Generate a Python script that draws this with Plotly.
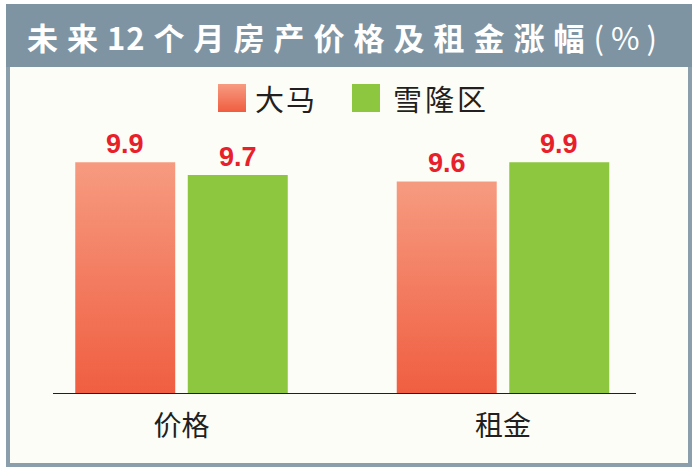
import re
import plotly.graph_objects as go

# ---------------- data ----------------
categories = ["价格", "租金"]
series_names = ["大马", "雪隆区"]
malaysia = [9.9, 9.6]
klang_valley = [9.7, 9.9]
title_main = "未来12个月房产价格及租金涨幅"
title_unit = "(%)"

# ---------------- layout geometry ----------------
W, H = 696, 468
ML, MR, MT, MB = 53, 60, 130, 75
PW, PH = W - ML - MR, H - MT - MB
Y_MIN = 6.31
Y_MAX = Y_MIN + PH / 64.3
X_MIN, X_MAX = -0.3997, 1.4137
BAR_W = 0.311
OFF = 0.175

RED_TOP, RED_BOT = "#f69b80", "#f05e41"
GREEN = "#8dc63f"
LABEL_RED = "#e8202a"
INK = "#231f20"
FRAME = "#8a9eab"
BAR_BG = "#7e94a2"
CJK = "Noto Sans CJK SC"


def px_x(px):
    return (px - ML) / PW


def px_y(py):
    return (H - MB - py) / PH


def mix(c1, c2, t):
    a = [int(c1[i:i + 2], 16) for i in (1, 3, 5)]
    b = [int(c2[i:i + 2], 16) for i in (1, 3, 5)]
    return "#%02x%02x%02x" % tuple(round(a[k] + (b[k] - a[k]) * t) for k in range(3))


fig = go.Figure()

# salmon (gradient) bars
for i, v in enumerate(malaysia):
    cx = i - OFF
    fig.add_trace(go.Scatter(
        x=[cx - BAR_W / 2, cx + BAR_W / 2], y=[v, v],
        mode="lines", line=dict(width=0, color=RED_TOP),
        fill="tozeroy",
        fillgradient=dict(type="vertical",
                          colorscale=[[0, RED_BOT], [1, RED_TOP]],
                          start=Y_MIN, stop=v),
        name=series_names[0], showlegend=False,
        hovertemplate=f"{series_names[0]} {categories[i]}: {v}<extra></extra>",
    ))

# green bars
fig.add_trace(go.Bar(
    x=[0, 1], y=klang_valley, width=BAR_W, offset=OFF - BAR_W / 2,
    marker=dict(color=GREEN, line=dict(width=0)),
    name=series_names[1], showlegend=False,
))

annotations = []
# value labels
label_font = dict(family="Liberation Sans", size=27, color=LABEL_RED, weight="bold")
for i, v in enumerate(malaysia):
    annotations.append(dict(x=i - OFF, y=v, xref="x", yref="y", text=f"{v:.1f}",
                            showarrow=False, yanchor="middle", yshift=18, font=label_font))
for i, v in enumerate(klang_valley):
    annotations.append(dict(x=i + OFF, y=v, xref="x", yref="y", text=f"{v:.1f}",
                            showarrow=False, yanchor="middle", yshift=18, font=label_font))

# title: wide tracking for CJK, tight for digit runs
TRACK = 9
parts = []
for seg in re.findall(r"\d+|\D+", title_main):
    if seg.isdigit():
        parts.append(f'<span style="letter-spacing:1px">{seg[:-1]}</span>'
                     f'<span style="letter-spacing:{TRACK}px">{seg[-1]}</span>')
    else:
        parts.append(f'<span style="letter-spacing:{TRACK}px">{seg}</span>')
title_html = f'<b>{"".join(parts)}</b><span style="letter-spacing:7px">{title_unit}</span>'
annotations.append(dict(
    x=px_x(345), y=px_y(36), xref="paper", yref="paper", showarrow=False,
    xanchor="center", yanchor="middle",
    text=title_html,
    font=dict(family=CJK, size=31, color="white"),
))

# legend texts
annotations.append(dict(x=px_x(253), y=px_y(98), xref="paper", yref="paper", showarrow=False,
                        xanchor="left", yanchor="middle",
                        text=f'<span style="letter-spacing:2px">{series_names[0]}</span>',
                        font=dict(family=CJK, size=29, color=INK)))
annotations.append(dict(x=px_x(391), y=px_y(98), xref="paper", yref="paper", showarrow=False,
                        xanchor="left", yanchor="middle",
                        text=f'<span style="letter-spacing:3px">{series_names[1]}</span>',
                        font=dict(family=CJK, size=29, color=INK)))

shapes = []
# outer frame
shapes.append(dict(type="rect", xref="paper", yref="paper", layer="below",
                   x0=px_x(8), x1=px_x(690), y0=px_y(465), y1=px_y(6),
                   fillcolor="#fdfdf8", line=dict(color=FRAME, width=4)))
# title bar
shapes.append(dict(type="rect", xref="paper", yref="paper", layer="below",
                   x0=px_x(6), x1=px_x(692), y0=px_y(67), y1=px_y(4),
                   fillcolor=BAR_BG, line=dict(width=0)))
# legend swatches
SW_TOP, SW_BOT = 84, 112
n = SW_BOT - SW_TOP
for k in range(n):
    shapes.append(dict(type="rect", xref="paper", yref="paper",
                       x0=px_x(218), x1=px_x(246), y0=px_y(SW_TOP + k + 1), y1=px_y(SW_TOP + k),
                       fillcolor=mix(RED_TOP, RED_BOT, k / (n - 1)), line=dict(width=0)))
shapes.append(dict(type="rect", xref="paper", yref="paper",
                   x0=px_x(352), x1=px_x(380), y0=px_y(SW_BOT), y1=px_y(SW_TOP),
                   fillcolor=GREEN, line=dict(width=0)))

fig.update_layout(
    width=W, height=H,
    margin=dict(l=ML, r=MR, t=MT, b=MB, pad=0),
    paper_bgcolor="white", plot_bgcolor="rgba(0,0,0,0)",
    barmode="overlay",
    showlegend=False,
    annotations=annotations,
    shapes=shapes,
    xaxis=dict(range=[X_MIN, X_MAX], tickvals=[0, 1], ticktext=categories,
               showline=True, linecolor=INK, linewidth=1, showgrid=False, zeroline=False,
               ticks="", ticklabelstandoff=8,
               tickfont=dict(family=CJK, size=28, color=INK), fixedrange=True),
    yaxis=dict(range=[Y_MIN, Y_MAX], visible=False, showgrid=False, zeroline=False, fixedrange=True),
)

fig.write_html("out.html", config={"displayModeBar": False},
               post_script="document.body.style.margin='0';document.body.style.overflow='hidden';")
